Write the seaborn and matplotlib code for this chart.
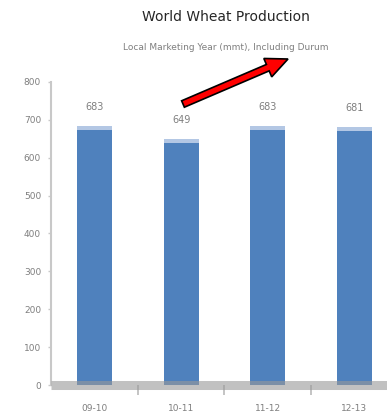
import matplotlib
matplotlib.use("Agg")
import matplotlib.pyplot as plt
import matplotlib.transforms as mtransforms
from matplotlib.patches import FancyArrow
import seaborn as sns
import pandas as pd

# Marketing years and production (million metric tons)
seasons = ["09-10", "10-11", "11-12", "12-13"]
production = [683, 649, 683, 681]
value_labels = ["683", "649", "683", "681"]
y_ticks = [0, 100, 200, 300, 400, 500, 600, 700, 800]

sns.set_theme(style="white")
plt.rcParams["font.family"] = ["DejaVu Sans"]

fig = plt.figure(figsize=(3.87, 4.17), dpi=100)
ax = fig.add_axes([0.133, 0.0767, 0.894, 0.727])

df = pd.DataFrame({"season": seasons, "mmt": production})
sns.barplot(data=df, x="season", y="mmt", color="#4f81bd", width=0.40,
            saturation=1, linewidth=0, ax=ax, zorder=2)
bars = list(ax.patches)

# lighter bevel band on the top of each bar
for patch in bars:
    x0 = patch.get_x()
    w = patch.get_width()
    h = patch.get_height()
    ax.bar(x0 + w / 2, 10, bottom=h - 10, width=w, color="#b3c7e4",
           linewidth=0, zorder=3)

# value labels above the bars
for patch, txt in zip(bars, value_labels):
    ax.annotate(txt, (patch.get_x() + patch.get_width() / 2, patch.get_height()),
                xytext=(0, 10), textcoords="offset points", ha="center",
                va="bottom", fontsize=7, color="#7f7f7f")

ax.set_ylim(0, 800)
ax.set_xlim(-0.5, 3.5)
ax.set_yticks(y_ticks)
ax.set_yticklabels([str(v) for v in y_ticks], fontsize=6.5, color="#7f7f7f")
ax.set_xlabel("")
ax.set_ylabel("")

for side in ("top", "right"):
    ax.spines[side].set_visible(False)
ax.spines["left"].set_color("#c8c8c8")
ax.spines["left"].set_linewidth(1.5)
# thick translucent floor band across the bottom of the plot
ax.spines["bottom"].set_color((0.6, 0.6, 0.6, 0.6))
ax.spines["bottom"].set_linewidth(6.5)
ax.spines["bottom"].set_capstyle("butt")
ax.spines["bottom"].set_zorder(4)

ax.tick_params(axis="y", which="major", length=2.5, width=1, color="#c8c8c8",
               left=True, pad=5)
ax.tick_params(axis="x", which="major", length=0, pad=14, labelsize=6.5,
               labelcolor="#7f7f7f")
ax.set_xticks([0.5, 1.5, 2.5], minor=True)
ax.tick_params(axis="x", which="minor", length=7, width=1.3, color="#bfbfbf",
               bottom=True, direction="out")

fig.text(0.584, 0.960, "World Wheat Production", ha="center", va="center",
         fontsize=10, color="#262626")
fig.text(0.584, 0.886, "Local Marketing Year (mmt), Including Durum",
         ha="center", va="center", fontsize=6.5, color="#7f7f7f")

# red callout arrow toward the subtitle
arrow = FancyArrow(183, 313, 105, 45, width=7, head_width=20, head_length=22,
                   length_includes_head=True, facecolor="#ff0000",
                   edgecolor="black", linewidth=1.2,
                   transform=mtransforms.IdentityTransform())
fig.add_artist(arrow)

fig.savefig("out.png", dpi=100)
